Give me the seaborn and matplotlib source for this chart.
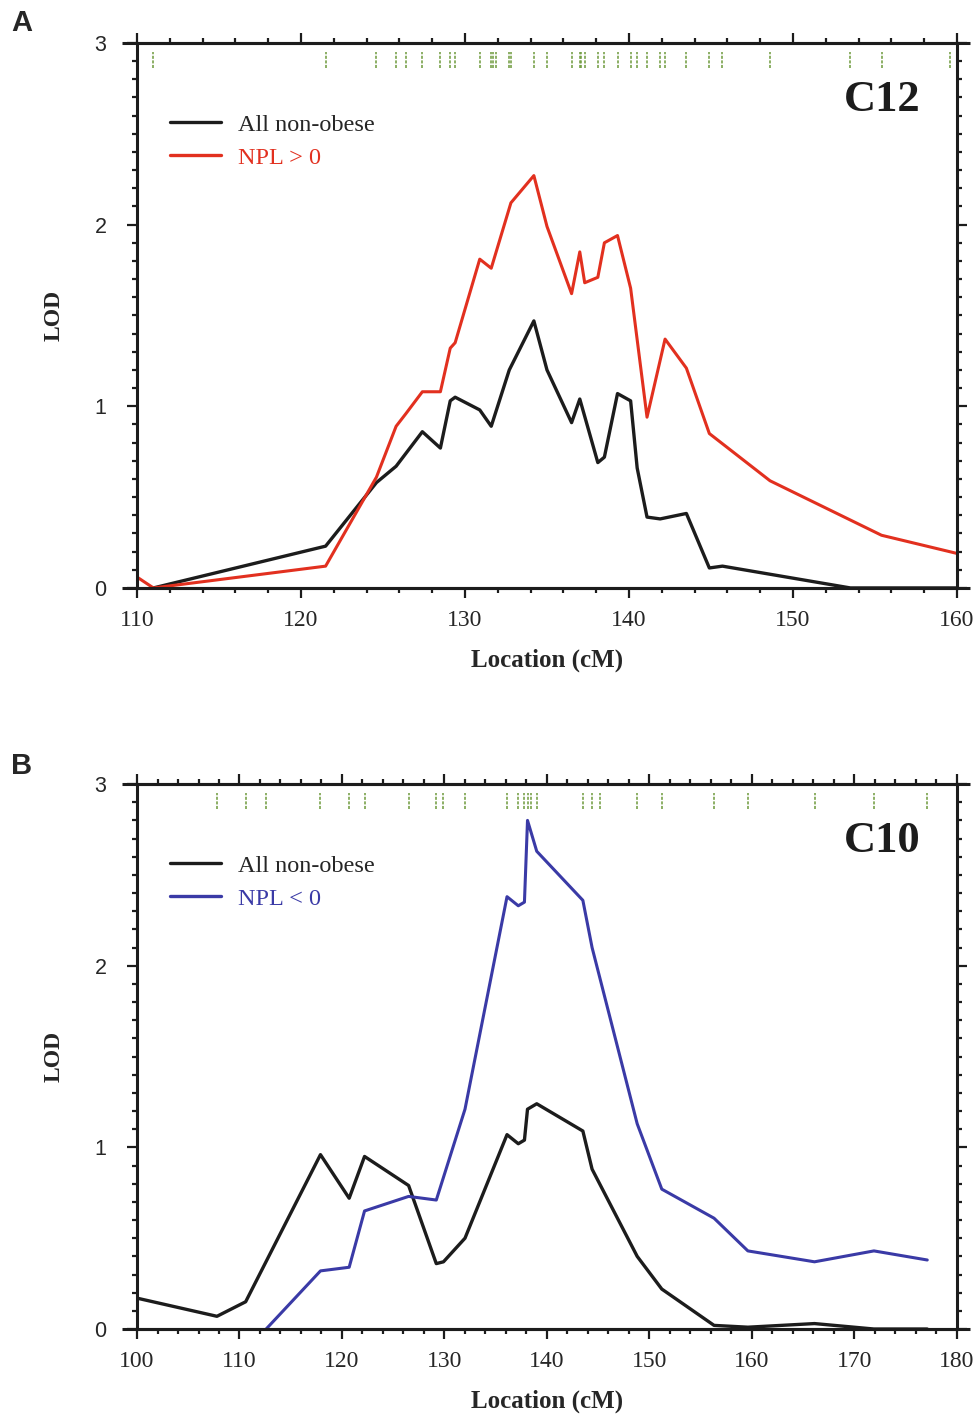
import pandas as pd
import matplotlib.pyplot as plt
import seaborn as sns
from matplotlib.ticker import MultipleLocator

# Panel A - chromosome C12
a_all_pos = [111.0, 121.5, 124.6, 125.8, 127.4, 128.5, 129.1, 129.4, 130.9, 131.6, 132.7,
             134.2, 135.0, 136.5, 137.0, 138.1, 138.5, 139.3, 140.1, 140.5, 141.1, 141.9,
             143.5, 144.9, 145.7, 153.5, 155.4, 159.6, 160.0]
a_all_lod = [0.0, 0.23, 0.58, 0.67, 0.86, 0.77, 1.03, 1.05, 0.98, 0.89, 1.20,
             1.47, 1.20, 0.91, 1.04, 0.69, 0.72, 1.07, 1.03, 0.66, 0.39, 0.38,
             0.41, 0.11, 0.12, 0.0, 0.0, 0.0, 0.0]
a_npl_pos = [110.0, 111.0, 121.5, 124.6, 125.8, 126.4, 127.4, 128.5, 129.1, 129.4, 130.9,
             131.6, 131.9, 132.8, 134.2, 135.0, 136.5, 137.0, 137.3, 138.1, 138.5, 139.3,
             140.1, 141.1, 142.2, 143.5, 144.9, 148.6, 155.4, 160.0]
a_npl_lod = [0.06, 0.0, 0.12, 0.61, 0.89, 0.96, 1.08, 1.08, 1.32, 1.35, 1.81,
             1.76, 1.85, 2.12, 2.27, 1.99, 1.62, 1.85, 1.68, 1.71, 1.90, 1.94,
             1.65, 0.94, 1.37, 1.21, 0.85, 0.59, 0.29, 0.19]
a_markers = [111.0, 121.5, 124.6, 125.8, 126.4, 127.4, 128.5, 129.1, 129.4, 130.9, 131.6,
             131.7, 131.9, 132.7, 132.8, 134.2, 135.0, 136.5, 137.0, 137.1, 137.3, 138.1,
             138.5, 139.3, 140.1, 140.5, 141.1, 141.9, 142.2, 143.5, 144.9, 145.7, 148.6,
             153.5, 155.4, 159.6]

# Panel B - chromosome C10
b_all_pos = [100.0, 107.8, 110.6, 117.9, 120.7, 122.2, 126.5, 129.2, 129.9, 132.0, 136.1,
             137.2, 137.8, 138.1, 139.0, 143.5, 144.4, 148.8, 151.2, 156.3, 159.6, 166.1,
             171.9, 177.1]
b_all_lod = [0.17, 0.07, 0.15, 0.96, 0.72, 0.95, 0.79, 0.36, 0.37, 0.50, 1.07,
             1.02, 1.04, 1.21, 1.24, 1.09, 0.88, 0.40, 0.22, 0.02, 0.01, 0.03,
             0.0, 0.0]
b_npl_pos = [112.6, 117.9, 120.7, 122.2, 126.5, 129.2, 132.0, 136.1, 137.2, 137.8, 138.1,
             139.0, 143.5, 144.4, 148.8, 151.2, 156.3, 159.6, 166.1, 171.9, 177.1]
b_npl_lod = [0.0, 0.32, 0.34, 0.65, 0.73, 0.71, 1.21, 2.38, 2.33, 2.35, 2.80,
             2.63, 2.36, 2.10, 1.13, 0.77, 0.61, 0.43, 0.37, 0.43, 0.38]
b_markers = [107.8, 110.6, 112.6, 117.9, 120.7, 122.2, 126.5, 129.2, 129.9, 132.0, 136.1,
             137.2, 137.8, 138.1, 138.4, 139.0, 143.5, 144.4, 145.2, 148.8, 151.2, 156.3,
             159.6, 166.1, 171.9, 177.1]

sns.set_theme(style="ticks")
plt.rcParams["font.family"] = ["Liberation Serif", "DejaVu Serif"]

BLACK = "#1c1c1c"
RED = "#e2301f"
BLUE = "#3a3aa6"
GREEN = "#6e9a3c"

fig = plt.figure(figsize=(9.8, 14.14), dpi=100)
ax_a = fig.add_axes([0.1398, 0.5842, 0.8367, 0.3854])
ax_b = fig.add_axes([0.1398, 0.0601, 0.8367, 0.3854])


def draw_panel(ax, all_pos, all_lod, npl_pos, npl_lod, npl_color, npl_label,
               markers, xlim, name):
    df_all = pd.DataFrame({"pos": all_pos, "lod": all_lod})
    df_npl = pd.DataFrame({"pos": npl_pos, "lod": npl_lod})
    sns.lineplot(data=df_all, x="pos", y="lod", ax=ax, color=BLACK, lw=2.4,
                 sort=False, estimator=None, label="All non-obese")
    sns.lineplot(data=df_npl, x="pos", y="lod", ax=ax, color=npl_color, lw=2.2,
                 sort=False, estimator=None, label=npl_label)
    ax.vlines(markers, 2.86, 2.95, color=GREEN, lw=1.1, linestyles=(0, (2, 1)))

    ax.set_xlim(*xlim)
    ax.set_ylim(0, 3)
    ax.xaxis.set_major_locator(MultipleLocator(10))
    ax.xaxis.set_minor_locator(MultipleLocator(2))
    ax.yaxis.set_major_locator(MultipleLocator(1))
    ax.yaxis.set_minor_locator(MultipleLocator(0.1))
    ax.tick_params(which="both", direction="out", top=True, right=True,
                   color=BLACK, width=1.6)
    ax.tick_params(which="major", length=7)
    ax.tick_params(which="minor", length=3.8)
    ax.tick_params(axis="x", labelsize=17, pad=9)
    ax.tick_params(axis="y", labelsize=15.5, pad=15)
    for lab in ax.get_yticklabels():
        lab.set_family(["Liberation Sans", "DejaVu Sans"])
    for sp in ax.spines.values():
        sp.set_linewidth(2.2)
        sp.set_color(BLACK)
    # frame lines run a little past the corners
    for yy in (0, 1):
        ax.plot([-0.018, 1.016], [yy, yy], transform=ax.transAxes, color=BLACK,
                lw=2.2, clip_on=False, solid_capstyle="butt")

    ax.set_xlabel("Location (cM)", fontsize=18, fontweight="bold")
    ax.set_ylabel("LOD", fontsize=17, fontweight="bold")
    ax.xaxis.set_label_coords(0.5, -0.112)
    ax.yaxis.set_label_coords(-0.088, 0.5)

    leg = ax.legend(loc="center left", bbox_to_anchor=(0.04, 0.82), frameon=False,
                    fontsize=17.5, handlelength=2.1, handletextpad=0.72,
                    labelspacing=0.45, borderpad=0, borderaxespad=0)
    leg.get_texts()[1].set_color(npl_color)
    for ln in leg.get_lines():
        ln.set_linewidth(2.4)

    ax.text(0.909, 0.895, name, transform=ax.transAxes, ha="center", va="center",
            fontsize=32, fontweight="bold", color=BLACK)


draw_panel(ax_a, a_all_pos, a_all_lod, a_npl_pos, a_npl_lod, RED, "NPL > 0",
           a_markers, (110, 160), "C12")
draw_panel(ax_b, b_all_pos, b_all_lod, b_npl_pos, b_npl_lod, BLUE, "NPL < 0",
           b_markers, (100, 180), "C10")

fig.text(0.0225, 0.984, "A", fontsize=21, fontweight="bold", ha="center", va="center",
         family=["Liberation Sans", "DejaVu Sans"])
fig.text(0.0225, 0.458, "B", fontsize=21, fontweight="bold", ha="center", va="center",
         family=["Liberation Sans", "DejaVu Sans"])

fig.savefig("out.png", dpi=100)
